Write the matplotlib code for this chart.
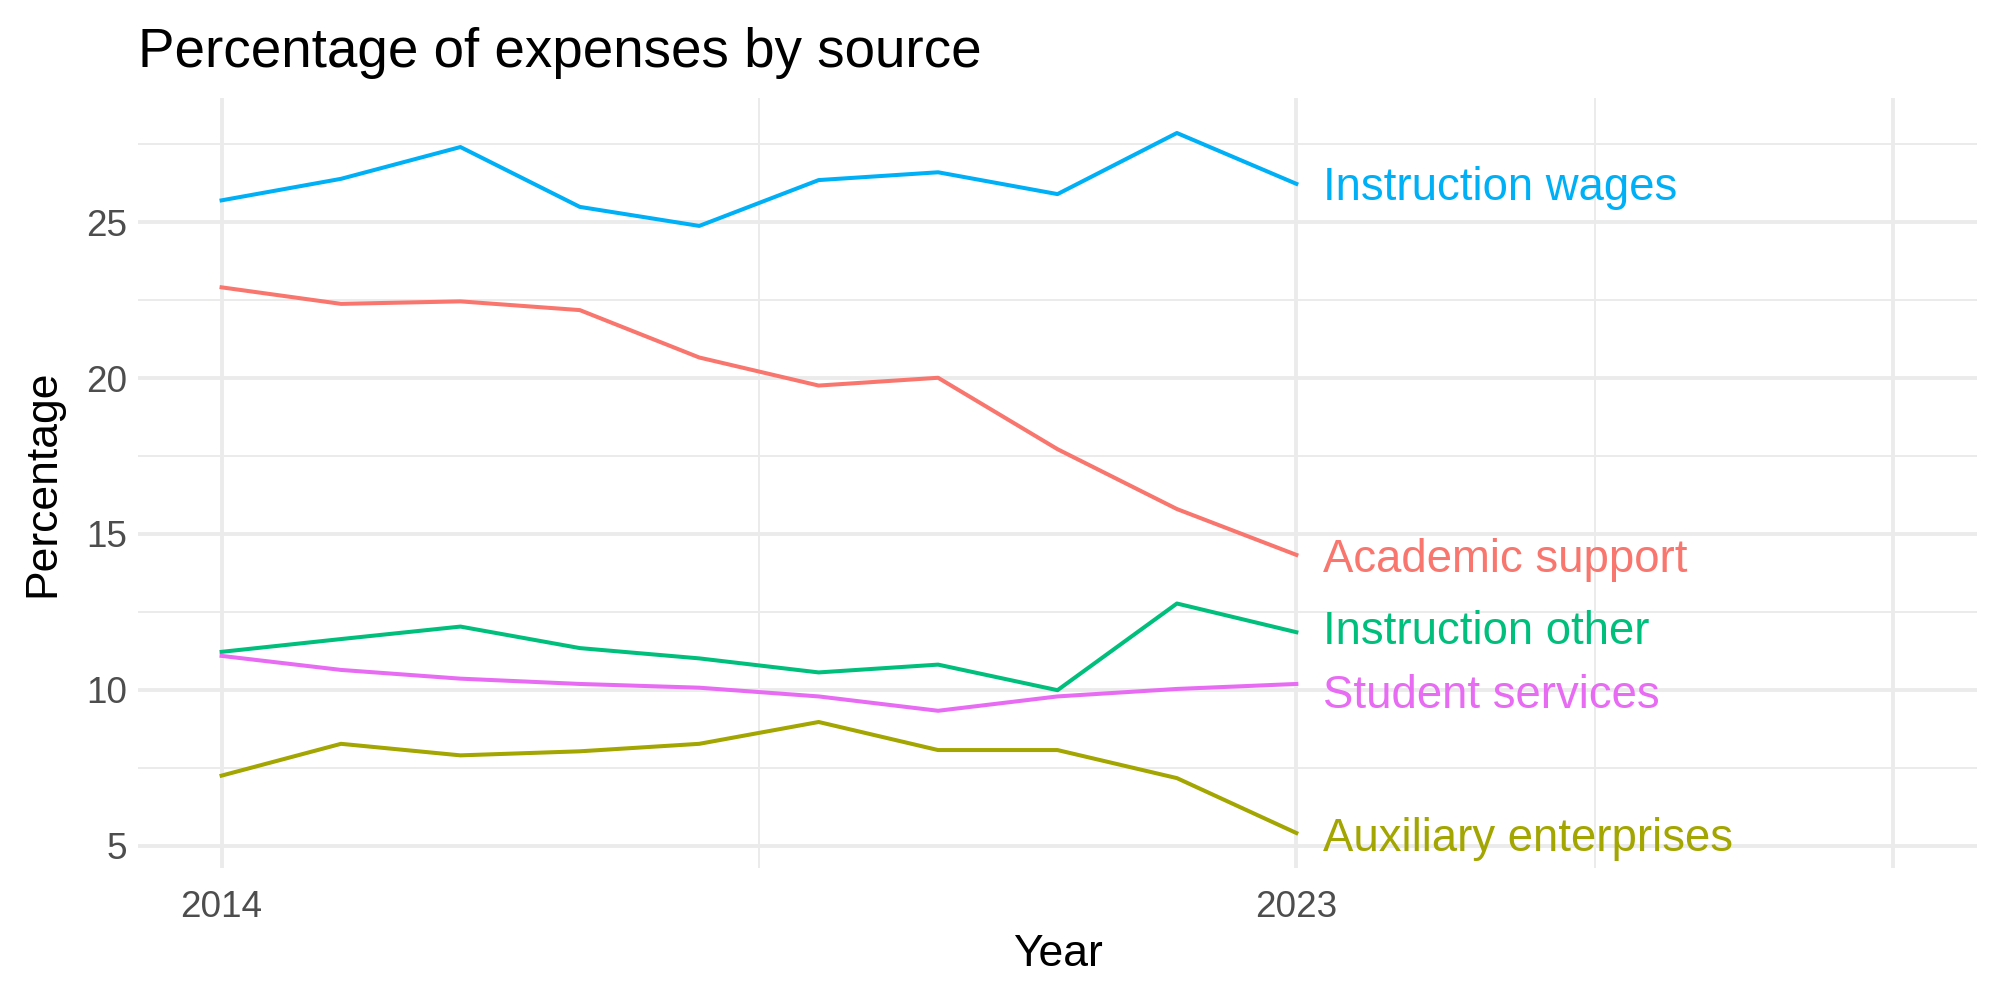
import matplotlib
matplotlib.use("Agg")
import matplotlib.pyplot as plt
import numpy as np

plt.rcParams['font.family'] = ['Liberation Sans', 'DejaVu Sans']

years = [2014, 2015, 2016, 2017, 2018, 2019, 2020, 2021, 2022, 2023]

instruction_wages = [25.70, 26.39, 27.41, 25.49, 24.88, 26.35, 26.60, 25.90, 27.86, 26.23]
academic_support = [22.91, 22.38, 22.46, 22.18, 20.66, 19.76, 20.01, 17.72, 15.80, 14.33]
instruction_other = [11.22, 11.63, 12.03, 11.34, 11.01, 10.56, 10.81, 9.99, 12.77, 11.85]
student_services = [11.09, 10.64, 10.36, 10.19, 10.07, 9.79, 9.33, 9.79, 10.03, 10.19]
auxiliary = [7.25, 8.27, 7.90, 8.03, 8.27, 8.97, 8.07, 8.07, 7.17, 5.41]

# label heights (labels repelled apart a little where they crowd)
label_y = {
    'Academic support': 14.30,
    'Auxiliary enterprises': 5.35,
    'Instruction other': 12.00,
    'Instruction wages': 26.23,
    'Student services': 9.95,
}

series = {
    'Academic support': (academic_support, '#F8766D'),
    'Auxiliary enterprises': (auxiliary, '#A3A500'),
    'Instruction other': (instruction_other, '#00BF7D'),
    'Instruction wages': (instruction_wages, '#00B0F6'),
    'Student services': (student_services, '#E76BF3'),
}

x_breaks = [2014, 2023, 2028]
x_labels = ['2014', '2023', '']
x_minor = [2018.5, 2025.5]
y_breaks = [5, 10, 15, 20, 25]
y_minor = [7.5, 12.5, 17.5, 22.5, 27.5]

fig = plt.figure(figsize=(10, 5), dpi=200)
ax = fig.add_axes([0.069, 0.132, 0.9195, 0.770])

grid_col = '#EBEBEB'
for x in x_minor:
    ax.axvline(x, color=grid_col, lw=0.7, zorder=0)
for y in y_minor:
    ax.axhline(y, color=grid_col, lw=0.7, zorder=0)
for x in x_breaks:
    ax.axvline(x, color=grid_col, lw=1.4, zorder=0)
for y in y_breaks:
    ax.axhline(y, color=grid_col, lw=1.4, zorder=0)

label_size = 16.4
cap_half = 0.716 * label_size / 2  # points, to centre caps on the value

all_vals = []
for name, (vals, col) in series.items():
    ax.plot(years, vals, color=col, lw=1.45, zorder=2)
    ax.annotate(name, xy=(years[-1] + 0.22, label_y[name]),
                xytext=(0, -cap_half), textcoords='offset points',
                color=col, fontsize=label_size, ha='left', va='baseline', zorder=3)
    all_vals += vals

# ggplot-style 5% expansion
lo, hi = min(all_vals), max(all_vals)
pad = (hi - lo) * 0.05
ax.set_ylim(lo - pad, hi + pad)
ax.set_xlim(2014 - 0.7, 2028 + 0.7)

ax.set_xticks(x_breaks)
ax.set_xticklabels(x_labels)
ax.set_yticks(y_breaks)
ax.tick_params(length=0, labelsize=13.3, labelcolor='#4D4D4D')
ax.tick_params(axis='x', pad=8)
ax.tick_params(axis='y', pad=4)
for s in ax.spines.values():
    s.set_visible(False)

ax.set_xlabel('Year', fontsize=16, labelpad=3)
ax.set_ylabel('Percentage', fontsize=16, labelpad=8)
fig.text(0.069, 0.947, 'Percentage of expenses by source', fontsize=19.7,
         ha='left', va='center')

fig.savefig('out.png', dpi=200)
